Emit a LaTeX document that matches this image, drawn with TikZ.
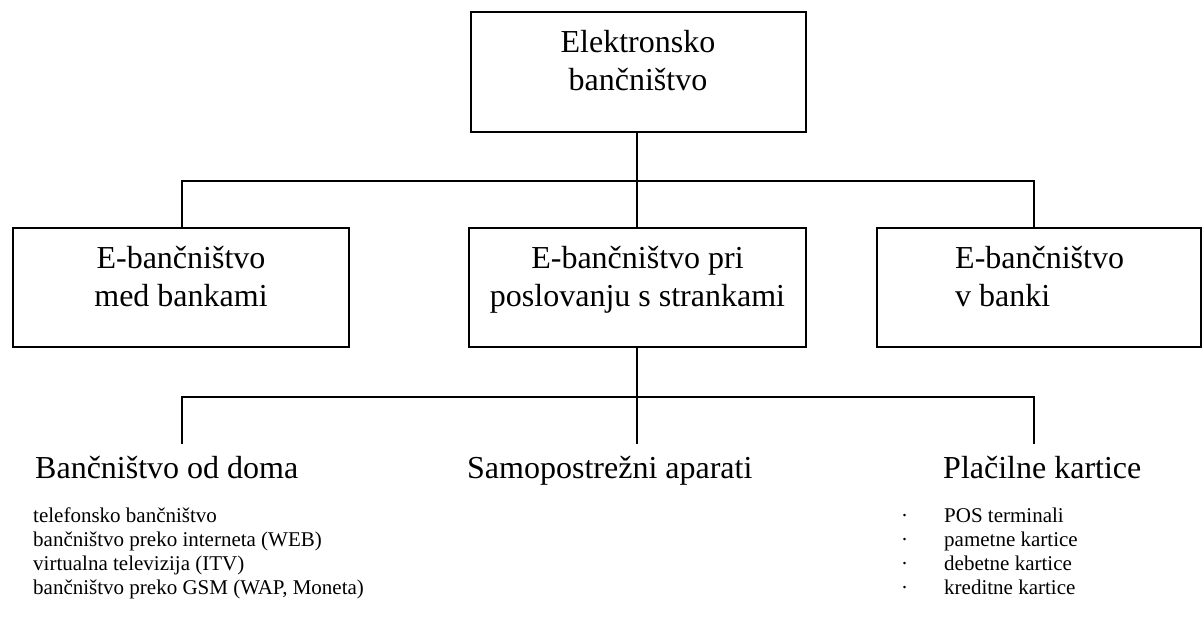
\documentclass[tikz,border=0pt]{standalone}
\usepackage{fontspec}
\setmainfont{Liberation Serif}
\begin{document}
\begin{tikzpicture}[x=1pt,y=-1pt,
  box/.style={draw, line width=1.5pt, inner sep=0pt},
  link/.style={draw, line width=1.5pt},
  big/.style={font=\fontsize{32}{38.5}\selectfont, inner sep=0pt, align=center, anchor=north},
  head/.style={font=\fontsize{32}{38.5}\selectfont, inner sep=0pt, anchor=base west},
  small/.style={font=\fontsize{21}{24}\selectfont, inner sep=0pt, anchor=base west}]
\useasboundingbox (0,0) rectangle (1203,618);

% boxes
\node[box, minimum width=335pt, minimum height=120pt] (top) at (638.5,72) {};
\node[box, minimum width=336pt, minimum height=119pt] (lb) at (181,287.5) {};
\node[box, minimum width=337pt, minimum height=119pt] (mb) at (637.5,287.5) {};
\node[box, minimum width=324pt, minimum height=119pt] (rb) at (1039,287.5) {};

% box texts
\node[big] (toptxt) at (638,30) {Elektronsko\\bančništvo};
\node[big] (lbtxt) at (181,246) {E-bančništvo\\med bankami};
\node[big] (mbtxt) at (637.5,246) {E-bančništvo pri\\poslovanju s strankami};
\node[big, align=left, anchor=north west] (rbtxt) at (955,246) {E-bančništvo\\v banki};

% upper bus
\coordinate (u1) at (182,181);
\coordinate (u2) at (637,181);
\coordinate (u3) at (1034,181);
\draw[link] (top.south -| u2) -- (mb.north -| u2);
\draw[link] (u1 |- lb.north) -- (u1) -- (u3) -- (u3 |- rb.north);

% lower bus
\coordinate (d1) at (182,397);
\coordinate (d2) at (637,397);
\coordinate (d3) at (1034,397);
\coordinate (e1) at (182,444);
\coordinate (e2) at (637,444);
\coordinate (e3) at (1034,444);
\draw[link] (mb.south -| d2) -- (e2);
\draw[link] (e1) -- (d1) -- (d3) -- (e3);

% headings
\node[head] (h1) at (35,478) {Bančništvo od doma};
\node[head] (h2) at (467,478) {Samopostrežni aparati};
\node[head] (h3) at (943,478) {Plačilne kartice};

% left list
\node[small] (l1) at (33,522) {telefonsko bančništvo};
\node[small] (l2) at (33,546) {bančništvo preko interneta (WEB)};
\node[small] (l3) at (33,570) {virtualna televizija (ITV)};
\node[small] (l4) at (33,594) {bančništvo preko GSM (WAP, Moneta)};

% right list
\foreach \i/\t [count=\k] in {522/POS terminali, 546/pametne kartice, 570/debetne kartice, 594/kreditne kartice}{
  \node[small] (b\k) at (901,\i) {·};
  \node[small] (r\k) at (944,\i) {\t};
}
\end{tikzpicture}
\end{document}
